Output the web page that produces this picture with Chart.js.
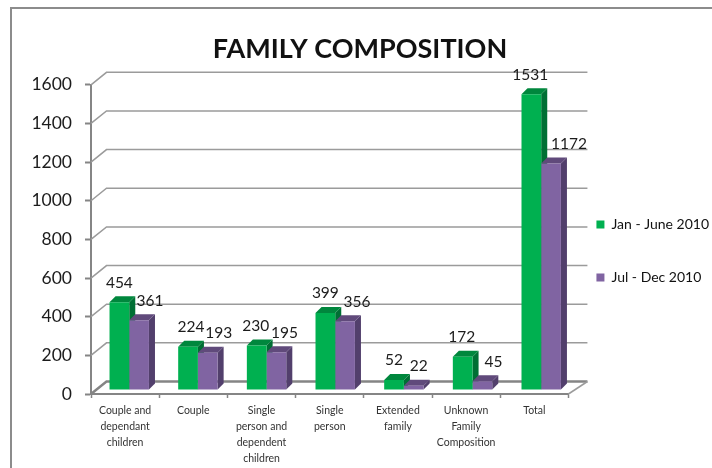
<!DOCTYPE html>
<html lang="en">
  <head>
    <meta charset="UTF-8" />
    <title>Family Composition</title>
    <script src="https://cdn.jsdelivr.net/npm/chart.js@4"></script>
    <style>
      html, body { margin: 0; padding: 0; background: #fff; overflow: hidden; }
      #wrap { width: 712px; height: 468px; }
    </style>
  </head>
  <body>
    <div id="wrap"><canvas id="chart"></canvas></div>
    <script>
      const categories = [
        ["Couple and", "dependant", "children"],
        "Couple",
        ["Single", "person and", "dependent", "children"],
        ["Single", "person"],
        ["Extended", "family"],
        ["Unknown", "Family", "Composition"],
        "Total"
      ];
      const janJune = [454, 224, 230, 399, 52, 172, 1531];
      const julDec = [361, 193, 195, 356, 22, 45, 1172];
      const yTicks = [0, 200, 400, 600, 800, 1000, 1200, 1400, 1600];

      // hand placed label nudges, as in the original
      const nudgeJan = [0, 3, -1, 0, 0, -1, -1];
      const nudgeJul = [11, 11, 8, 12, 5, 11, 18];
      const faceColors = [
        { top: "#00873d", side: "#006f34" },
        { top: "#604a7b", side: "#523f6c" }
      ];
      const gridColor = "#9b9b9b";
      const axisColor = "#858585";

      const fake3d = {
        id: "fake3d",
        afterLayout(chart) {
          // legend sits closer to the plot than labels.padding would allow
          chart.legend.left -= 11;
          chart.legend.top += 1;
          chart.titleBlock.left -= 5;
          chart.titleBlock.right -= 5;
        },
        beforeDatasetsDraw(chart) {
          const { ctx, scales: { x, y } } = chart;
          const dx = 15.5, dy = -12.5;

          // back wall lines and the little diagonals going to them
          ctx.save();
          yTicks.forEach((t) => {
            const py = y.getPixelForValue(t);
            ctx.beginPath();
            ctx.moveTo(x.left, py);
            ctx.lineTo(x.left + dx, py + dy);
            ctx.lineTo(x.right + 19, py + dy);
            ctx.strokeStyle = t === 0 ? axisColor : gridColor;
            ctx.lineWidth = t === 0 ? 2.5 : 1.5;
            ctx.stroke();
          });
          // floor edge on the right
          ctx.beginPath();
          ctx.moveTo(x.right, y.bottom);
          ctx.lineTo(x.right + 19, y.bottom + dy);
          ctx.strokeStyle = gridColor;
          ctx.lineWidth = 1.5;
          ctx.stroke();
          ctx.restore();

          // the bars stand a bit inside the floor
          ctx.save();
          ctx.translate(94.9, -4);
          ctx.scale(1.0067, 1);
          ctx.translate(-91, 0);
          const d = 6;
          chart.data.datasets.forEach((ds, i) => {
            chart.getDatasetMeta(i).data.forEach((bar) => {
              const l = bar.x - bar.width / 2, r = bar.x + bar.width / 2;
              ctx.fillStyle = faceColors[i].side;
              ctx.beginPath();
              ctx.moveTo(r, bar.y);
              ctx.lineTo(r + d, bar.y - d);
              ctx.lineTo(r + d, bar.base - d);
              ctx.lineTo(r, bar.base);
              ctx.closePath();
              ctx.fill();
              ctx.fillStyle = faceColors[i].top;
              ctx.beginPath();
              ctx.moveTo(l, bar.y);
              ctx.lineTo(l + d, bar.y - d);
              ctx.lineTo(r + d, bar.y - d);
              ctx.lineTo(r, bar.y);
              ctx.closePath();
              ctx.fill();
            });
          });
        },
        afterDatasetsDraw(chart) {
          const { ctx } = chart;
          ctx.restore();

          // value labels
          ctx.save();
          ctx.font = "15.5px Lato";
          ctx.fillStyle = "#1c1c1c";
          ctx.textAlign = "center";
          ctx.textBaseline = "middle";
          chart.data.datasets.forEach((ds, i) => {
            const nudge = i === 0 ? nudgeJan : nudgeJul;
            chart.getDatasetMeta(i).data.forEach((bar, j) => {
              const px = 94.9 + (bar.x - 91) * 1.0067 + nudge[j];
              ctx.fillText(String(ds.data[j]), px, bar.y - 4 - 19.5);
            });
          });
          ctx.restore();
        },
        beforeDraw(chart) {
          // picture frame
          const { ctx, width, height } = chart;
          ctx.save();
          ctx.strokeStyle = "#8c8c8c";
          ctx.lineWidth = 2;
          ctx.beginPath();
          ctx.moveTo(11, height);
          ctx.lineTo(11, 8);
          ctx.lineTo(width, 8);
          ctx.stroke();
          ctx.restore();
        }
      };

      new Chart("chart", {
        type: "bar",
        data: {
          labels: categories,
          datasets: [
            { label: "Jan - June 2010", data: janJune, backgroundColor: "#00b050",
              categoryPercentage: 0.574, barPercentage: 1 },
            { label: "Jul - Dec 2010", data: julDec, backgroundColor: "#8064a2",
              categoryPercentage: 0.574, barPercentage: 1 }
          ]
        },
        options: {
          responsive: true,
          maintainAspectRatio: false,
          animation: false,
          layout: { padding: { top: 33, right: -18, bottom: 0, left: 0 } },
          plugins: {
            tooltip: { enabled: false },
            title: {
              display: true,
              text: "FAMILY COMPOSITION",
              color: "#111",
              font: { family: "Lato", size: 27, weight: "bold", lineHeight: 1.2 },
              padding: { top: 0, bottom: 19.4 }
            },
            legend: {
              position: "right",
              labels: {
                color: "#111",
                font: { family: "Lato", size: 14 },
                boxWidth: 8,
                boxHeight: 8,
                padding: 39
              }
            }
          },
          scales: {
            x: {
              afterFit(scale) { scale.height = 74; },
              grid: { drawOnChartArea: false, color: axisColor, tickLength: 4, tickWidth: 1.5 },
              border: { display: true, color: axisColor, width: 2 },
              ticks: {
                color: "#333",
                font: { family: "Lato", size: 10.5, lineHeight: 1.52 },
                maxRotation: 0,
                autoSkip: false,
                padding: 5
              }
            },
            y: {
              min: 0,
              max: 1600,
              afterFit(scale) { scale.width = 91; },
              afterBuildTicks(scale) { scale.ticks = yTicks.map((v) => ({ value: v })); },
              grid: {
                drawOnChartArea: false,
                color: axisColor,
                tickLength: 6,
                tickWidth: 2
              },
              border: { display: true, color: axisColor, width: 2 },
              ticks: {
                color: "#1c1c1c",
                font: { family: "Lato", size: 17.5 },
                padding: 13,
                callback: (v) => String(v)
              }
            }
          }
        },
        plugins: [fake3d]
      });
    </script>
  </body>
</html>
